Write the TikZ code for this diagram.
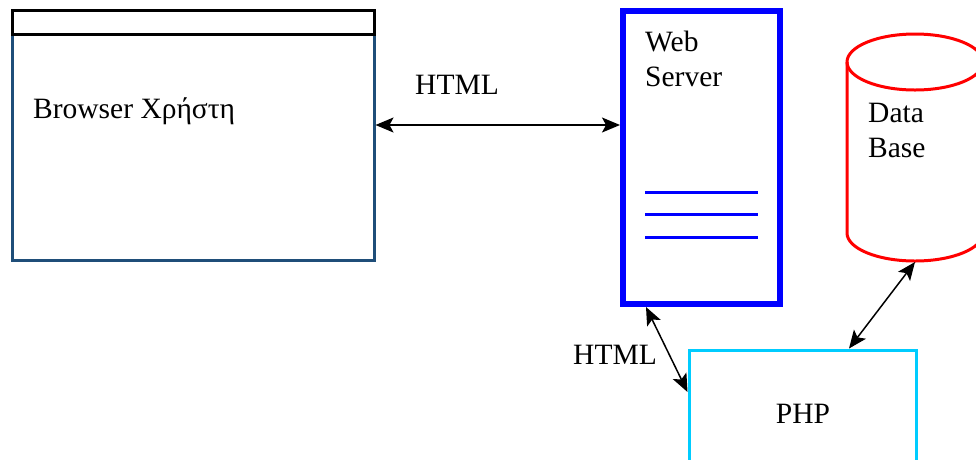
\documentclass[tikz,border=0pt]{standalone}
\usepackage{fontspec}
\setmainfont{Liberation Serif}
\usetikzlibrary{arrows.meta}
\definecolor{winblue}{HTML}{1F4E79}
\definecolor{srvblue}{HTML}{0000FF}
\definecolor{dbred}{HTML}{FF0000}
\definecolor{phpcyan}{HTML}{00CCFF}
\begin{document}
\begin{tikzpicture}[x=1pt,y=-1pt,
  txt/.style={font=\fontsize{29.5}{35}\selectfont, inner sep=0pt, anchor=base west},
  panel/.style={inner sep=0pt, fill=white},
  tip/.tip={Stealth[length=18pt,width=15pt,inset=4pt]},
  link/.style={tip-tip, line width=1.5pt}]
\useasboundingbox (0,0) rectangle (976,459);
\clip (0,0) rectangle (976,459);

% browser window with its title bar
\node[panel, draw=winblue, line width=3pt, minimum width=362pt, minimum height=250pt] (browser) at (193,135) {};
\draw[line width=3pt] (12,10) rectangle (374,34);
\node[txt] (browsertxt) at (33,118) {Browser Χρήστη};

% web server
\node[panel, draw=srvblue, line width=6pt, minimum width=157pt, minimum height=293pt] (web) at (701.5,157.5) {};
\node[txt] (webtxt) at (645,51) {Web};
\node[txt] (servertxt) at (645,86) {Server};
\foreach \y in {192,214,237}
  \draw[srvblue, line width=3pt] (645,\y) -- (758,\y);

% database cylinder
\draw[dbred, line width=3pt] (847,62) -- (847,233) arc[start angle=180, end angle=0, x radius=68, y radius=28] -- (983,62);
\draw[dbred, line width=3pt] (915,62) ellipse[x radius=68, y radius=28];
\coordinate (dbbottom) at (915,262);
\node[txt] (datatxt) at (868,122) {Data};
\node[txt] (basetxt) at (868,157) {Base};

% PHP module
\node[panel, draw=phpcyan, line width=3pt, minimum width=227pt, minimum height=160pt] (php) at (802.5,430) {};
\node[txt, anchor=base] (phptxt) at (803,423) {PHP};

% connectors
\coordinate (httpy) at (0,125);
\draw[link] (browser.east |- httpy) -- (web.west |- httpy);
\node[txt] (html1) at (415,94) {HTML};

\draw[link] ([xshift=26pt]web.south west) -- (php.west |- 0,392);
\node[txt] (html2) at (573,364) {HTML};

\draw[link] (dbbottom) -- ([xshift=161.5pt]php.north west);
\end{tikzpicture}
\end{document}
